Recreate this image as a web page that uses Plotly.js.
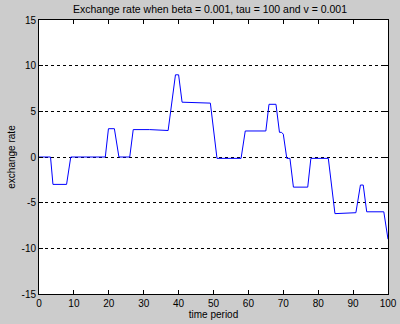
<!DOCTYPE html>
<html><head><meta charset="utf-8">
<script src="https://cdn.plot.ly/plotly-3.0.1.min.js"></script>
<style>html,body{margin:0;padding:0;background:#cccccc;}</style>
</head><body>
<div id="chart" style="width:400px;height:324px;"></div>
<script>
const timePeriod = [0, 3.3, 4.0, 7.9, 9.1, 19.0, 19.9, 21.6, 22.9, 26.0, 27.0, 31.7, 37.0, 37.8, 39.1, 40.0, 41.0, 49.1, 51.0, 57.9, 59.1, 65.0, 65.9, 67.9, 68.9, 69.5, 70.0, 71.0, 71.9, 72.9, 77.0, 77.9, 82.9, 84.8, 90.8, 92.1, 92.9, 93.9, 98.8, 100];
const exchangeRate = [0, 0, -3.0, -3.0, 0, 0, 3.1, 3.1, 0, 0, 3.0, 3.0, 2.9, 5.1, 9.0, 9.0, 6.0, 5.9, -0.15, -0.15, 2.85, 2.85, 5.77, 5.77, 2.7, 2.7, 2.5, -0.15, -0.15, -3.3, -3.3, -0.15, -0.15, -6.2, -6.1, -3.07, -3.07, -6.0, -6.0, -9.0];
const xTicks = [0, 10, 20, 30, 40, 50, 60, 70, 80, 90, 100];
const yTicks = [-15, -10, -5, 0, 5, 10, 15];

const font = {family: 'Liberation Sans, Arial, sans-serif', size: 10, color: '#000'};
Plotly.newPlot('chart', [{
  x: timePeriod, y: exchangeRate, type: 'scatter', mode: 'lines',
  line: {color: '#0000ff', width: 1}, hoverinfo: 'skip'
}], {
  width: 400, height: 324,
  paper_bgcolor: '#cccccc', plot_bgcolor: '#ffffff',
  margin: {l: 39, r: 12, t: 20, b: 30},
  font: font,
  showlegend: false,
  title: {text: 'Exchange rate when beta = 0.001, tau = 100 and v = 0.001', font: {family: font.family, size: 10.5, color: '#000'}, x: 0.525, xanchor: 'center', y: 0.97, yanchor: 'middle'},
  xaxis: {
    range: [0, 100], tickvals: xTicks, ticktext: xTicks.map(String),
    showgrid: false, zeroline: false,
    showline: true, linecolor: '#000', linewidth: 1, mirror: 'allticks',
    ticks: 'inside', ticklen: 4, tickcolor: '#000',
    tickfont: font,
    title: {text: 'time period', font: font, standoff: 2}
  },
  yaxis: {
    range: [-15, 15], tickvals: yTicks, ticktext: yTicks.map(String),
    showgrid: true, gridcolor: '#000', gridwidth: 1, griddash: '3px,3px',
    zeroline: false,
    showline: true, linecolor: '#000', linewidth: 1, mirror: 'allticks',
    ticks: 'inside', ticklen: 4, tickcolor: '#000',
    tickfont: font,
    title: {text: 'exchange rate', font: font, standoff: 4}
  }
}, {staticPlot: true});
</script>
</body></html>
